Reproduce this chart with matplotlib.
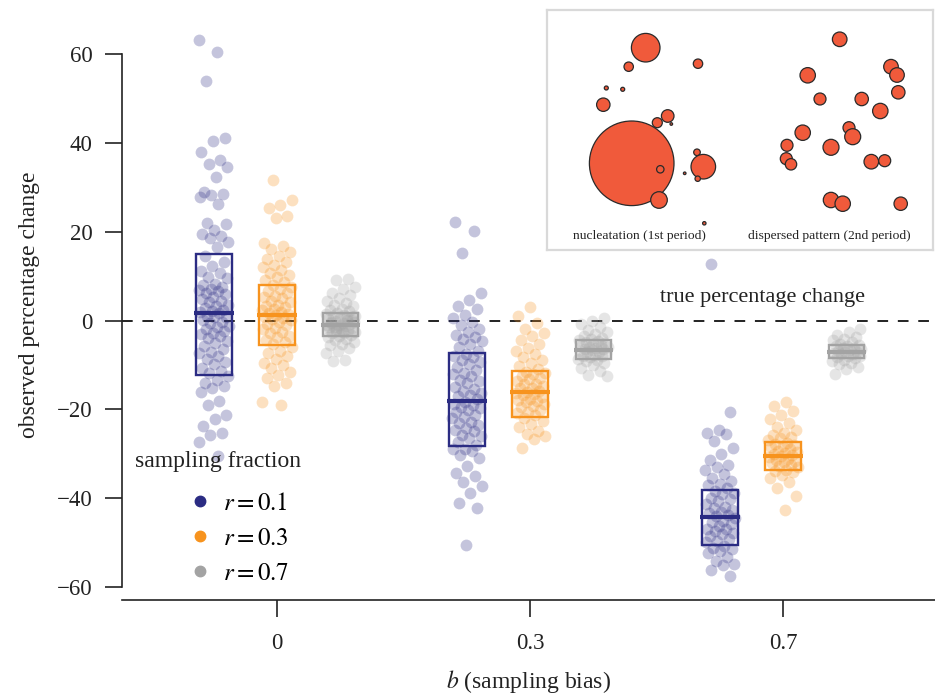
import numpy as np
import matplotlib
matplotlib.use('Agg')
import matplotlib.pyplot as plt
from matplotlib.patches import Rectangle, Circle
from matplotlib.lines import Line2D

plt.rcParams['font.family'] = ['Liberation Serif', 'DejaVu Serif']
plt.rcParams['mathtext.fontset'] = 'stix'

bias_labels = ['0', '0.3', '0.7']
fraction_labels = ['0.1', '0.3', '0.7']
colors = ['#2b2c83', '#f7931e', '#a3a3a3']

# observed percentage change per replicate, b = 0
b0_r01 = [63.2, 60.6, 54.1, 41.1, 40.4, 37.9, 36.2, 35.3, 34.6, 32.3, 29.0, 28.6, 28.3, 27.9,
          26.2, 22.0, 21.7, 20.5, 19.5, 19.0, 18.7, 17.7, 16.6, 14.5, 13.2,
          12.4, 11.1, 10.7, 9.8, 9.5, 8.3, 8.0, 7.6, 7.2, 6.9, 6.6, 6.1, 5.9, 5.2, 4.8, 4.5,
          4.1, 3.6, 3.3, 2.9, 2.4, 2.1, 2.0, 1.6, 1.0, 0.9, 0.7, 0.2, -0.4, -0.6, -1.2, -1.5,
          -1.9, -2.3, -2.8, -3.1, -3.6, -4.0, -4.7, -5.1, -5.8, -6.4, -7.0, -7.3, -8.1, -8.7,
          -9.4, -9.9, -10.6, -11.3, -11.8, -12.4,
          -13.3, -14.1, -14.8, -15.1, -16.2, -18.2, -19.0, -21.2, -22.2, -23.8, -25.3, -25.7,
          -27.4, -30.6]
b0_r03 = [31.6, 27.1, 26.0, 25.3, 23.5, 23.0, 17.5, 16.9, 16.2, 15.4, 14.5, 13.9, 13.2, 12.6,
          12.1, 11.4, 10.8, 10.2, 9.7, 9.1, 8.6,
          8.1, 7.5, 7.2, 6.6, 6.1, 5.5, 5.3, 5.0, 4.4, 4.1, 3.6, 3.2, 3.0, 2.7, 2.4, 2.0, 1.7,
          1.5, 1.2, 0.9, 0.6, 0.3, 0.1, -0.4, -0.8, -1.1, -1.6, -2.0, -2.5, -2.9, -3.4, -3.8,
          -4.5, -4.9, -5.4,
          -6.0, -6.8, -7.3, -8.1, -8.7, -9.6, -10.1, -10.6, -11.5, -12.2, -12.9, -14.0, -14.8,
          -18.3, -19.0]
b0_r07 = [9.4, 9.1, 7.6, 7.0, 6.2, 5.8, 5.1, 4.4, 4.0, 3.5, 3.2, 2.7, 2.3, 2.1, 1.8, 1.5, 1.3,
          1.0, 0.8, 0.5, 0.4, 0.1, -0.1, -0.3, -0.5, -0.6, -0.8, -1.0, -1.1, -1.3, -1.4, -1.6,
          -1.8, -1.9, -2.1, -2.3, -2.5, -2.7, -2.9, -3.2, -3.4, -3.7, -4.1, -4.3, -4.8, -5.3,
          -5.6, -6.2, -6.9, -7.4, -8.8, -9.2, 0.2, -0.9, -1.5, 0.7, -2.0, 1.1, -2.6, -0.4]

# b = 0.3
b03_r01 = [22.3, 20.1, 15.2, 6.2, 4.7, 3.2, 2.5, 1.3, 0.6, -0.4, -1.0, -1.8, -2.5, -3.3, -3.8,
           -4.1, -4.6, -5.4, -6.0, -6.8, -7.5, -7.9, -8.3, -9.0, -9.4, -9.7, -10.5, -11.2,
           -11.9, -12.0, -12.6, -13.4, -13.7, -14.0, -14.9, -15.5, -15.8, -16.3, -16.9, -17.0,
           -17.6, -18.4, -18.9, -19.1, -19.5, -19.8, -20.2, -20.6, -21.3, -21.7, -22.0, -22.8,
           -23.0, -23.5, -24.2, -24.6, -25.0, -25.8, -26.1, -26.5, -27.3, -28.0, -28.9, -29.0,
           -29.5, -30.4, -31.1, -32.9, -34.3, -35.1, -36.5, -37.2, -38.8, -41.1, -42.2, -50.5]
b03_r03 = [3.0, 1.0, -0.5, -1.8, -2.7, -3.6, -4.5, -5.2, -6.1, -6.8, -7.6, -8.3, -9.0, -9.6,
           -10.3, -10.9, -11.5, -11.8, -12.1, -12.6, -12.9, -13.2, -13.7, -14.2, -14.4, -14.8,
           -15.1, -15.3, -15.8, -16.0, -16.3, -16.6, -16.8, -17.3, -17.8, -17.9, -18.1, -18.4,
           -18.9, -19.2, -19.5, -20.1, -20.7, -20.9, -21.3, -21.9, -22.6, -23.3, -24.0, -24.8,
           -25.5, -26.1, -26.8, -28.7]
b03_r07 = [0.5, 0.0, -0.8, -1.5, -2.1, -2.6, -3.1, -3.5, -3.9, -4.1, -4.3, -4.6, -4.9, -5.0,
           -5.3, -5.5, -5.6, -5.9, -6.0, -6.2, -6.4, -6.5, -6.6, -6.8, -7.0, -7.1, -7.4, -7.7,
           -7.9, -8.0, -8.3, -8.7, -8.9, -9.1, -9.6, -10.1, -10.7, -11.4, -12.2, -12.6]

# b = 0.7
b07_r01 = [12.7, -20.7, -24.6, -25.3, -25.6, -27.2, -28.7, -30.1, -31.4, -32.5, -33.0, -33.6,
           -34.5, -35.4, -36.2, -36.8, -37.0, -37.8, -38.5, -38.9, -39.2, -39.9, -40.2, -40.6,
           -41.3, -42.0, -42.3, -42.6, -43.2, -43.5, -43.9, -44.0, -44.5, -45.1, -45.5, -45.8,
           -46.4, -46.9, -47.1, -47.5, -47.8, -48.1, -48.5, -49.2, -49.6, -50.0, -50.8, -51.2,
           -51.6, -52.0, -52.4, -53.3, -54.2, -54.8, -55.1, -56.3, -57.7]
b07_r03 = [-18.4, -19.3, -20.5, -21.4, -22.3, -23.1, -24.0, -24.7, -25.3, -25.9, -26.2, -26.5,
           -27.0, -27.5, -27.8, -28.0, -28.2, -28.5, -29.0, -29.4, -29.6, -29.9, -30.0, -30.3,
           -30.6, -30.8, -31.2, -31.4, -31.7, -31.9, -32.1, -32.6, -32.9, -33.1, -33.6, -33.9,
           -34.2, -34.8, -35.5, -36.3, -37.7, -39.6, -42.6]
b07_r07 = [-2.0, -2.6, -3.2, -3.7, -4.1, -4.5, -4.9, -5.2, -5.5, -5.7, -5.8, -6.1, -6.3, -6.4,
           -6.7, -6.8, -7.0, -7.2, -7.3, -7.5, -7.6, -7.9, -8.1, -8.2, -8.5, -8.8, -9.1, -9.5,
           -9.9, -10.4, -11.0, -12.0]

# box summaries: rows = bias, cols = fraction
box_lo = [[-12.2, -5.6, -3.4], [-28.2, -21.8, -8.6], [-50.5, -33.6, -8.4]]
box_mid = [[1.8, 1.2, -1.0], [-18.2, -16.0, -6.7], [-44.3, -30.6, -7.1]]
box_hi = [[14.9, 8.0, 1.6], [-7.4, -11.4, -4.5], [-38.2, -27.4, -5.6]]

# inset sketch: circle centres / radii (inset pixel frame)
nuc_x = [98.7, 81.7, 151, 59.3, 75.7, 56.3, 120.7, 110.3, 124.3, 108, 84.7, 113.3, 150, 156.3, 150.7, 137.7, 112, 157.3]
nuc_y = [37.7, 56.7, 53.7, 78, 79.3, 94.7, 106, 112.7, 114, 120, 153.3, 159.3, 142.3, 156.7, 168.7, 163.3, 190, 213.3]
nuc_r = [14.3, 4.7, 4.7, 2, 2, 6.7, 6.3, 5, 1.3, 1, 42.3, 3.7, 3.3, 12.3, 2.7, 1.3, 8.3, 1.7]
disp_x = [292.7, 260.7, 344, 350, 351.3, 273, 314.7, 333.3, 255.7, 302, 305.7, 240, 284, 239.3, 244, 324.3, 337.7, 284, 295.7, 353.7]
disp_y = [29.3, 65.3, 56.7, 65, 82.3, 89, 89, 101, 122.7, 117.7, 126.7, 135.3, 137.3, 148.7, 154.3, 151.7, 150.7, 190, 193.7, 193.7]
disp_r = [7.3, 7.7, 7.3, 7.3, 6.7, 6, 6.7, 7.7, 7.7, 6, 8, 6, 8, 6, 5.7, 7.3, 6, 7.7, 7.7, 6.7]

groups = [[b0_r01, b0_r03, b0_r07], [b03_r01, b03_r03, b03_r07], [b07_r01, b07_r03, b07_r07]]
offsets = [-0.25, 0.0, 0.25]

fig = plt.figure(figsize=(9.35, 6.97), dpi=100)
ax = fig.add_axes([122 / 935, 97 / 697, 813 / 935, 590 / 697])

for i, row in enumerate(groups):
    for j, vals in enumerate(row):
        vals = np.asarray(vals)
        n = len(vals)
        # deterministic strip jitter
        jit = ((np.arange(n) * 0.618034 + 0.37 * j + 0.11 * i) % 1 - 0.5) * 0.12
        xc = i + offsets[j]
        ax.scatter(xc + jit, vals, s=72, color=colors[j], alpha=0.28, linewidths=0, zorder=2)
        ax.add_patch(Rectangle((xc - 0.07, box_lo[i][j]), 0.14, box_hi[i][j] - box_lo[i][j],
                               fill=False, ec=colors[j], lw=1.7, zorder=3))
        ax.plot([xc - 0.078, xc + 0.078], [box_mid[i][j]] * 2, color=colors[j], lw=3.0,
                solid_capstyle='butt', zorder=3)

ax.axhline(0, color='#222222', lw=1.4, ls=(0, (5.5, 5)), zorder=1)
ax.text(1.92, 5.2, 'true percentage change', fontsize=16, ha='center', va='center', color='#222222')

ax.set_xlim(-0.613, 2.6)
ax.set_ylim(-63, 70)
ax.set_xticks([0, 1, 2])
ax.set_xticklabels(bias_labels)
ax.set_yticks([-60, -40, -20, 0, 20, 40, 60])
ax.set_yticklabels(['\u221260', '\u221240', '\u221220', '0', '20', '40', '60'])
ax.tick_params(axis='both', labelsize=16.5, length=12, width=1.2, colors='#222222', pad=9)
ax.tick_params(axis='x', pad=12)
for s in ['top', 'right']:
    ax.spines[s].set_visible(False)
for s in ['left', 'bottom']:
    ax.spines[s].set_linewidth(1.2)
    ax.spines[s].set_color('#222222')
ax.spines['left'].set_bounds(-60, 60)
ax.set_ylabel('observed percentage change', fontsize=17, labelpad=12, color='#222222')
ax.set_xlabel('$b$ (sampling bias)', fontsize=17, labelpad=10, color='#222222')

# legend
ax.text(0.016, 0.234, 'sampling fraction', transform=ax.transAxes, fontsize=17,
        va='center', ha='left', color='#222222')
handles = [Line2D([], [], ls='', marker='o', ms=7.5, color=c) for c in colors]
labels = ['$r = %s$' % f for f in fraction_labels]
ax.legend(handles, labels, loc='upper left', bbox_to_anchor=(0.084, 0.183), frameon=False,
          fontsize=18, handlelength=0.75, handletextpad=0.55, labelspacing=0.5,
          borderpad=0, borderaxespad=0)

# inset
ins = fig.add_axes([547 / 935, 447 / 697, 386 / 935, 240 / 697])
ins.set_xlim(0, 386)
ins.set_ylim(240, 0)
ins.set_xticks([])
ins.set_yticks([])
for s in ins.spines.values():
    s.set_color('#d9d9d9')
    s.set_linewidth(1.6)
for x, y, r in zip(nuc_x + disp_x, nuc_y + disp_y, nuc_r + disp_r):
    ins.add_patch(Circle((x, y), r, fc='#f05a3b', ec='#2a2a2a', lw=0.9))
ins.text(92, 226, 'nucleatation (1st period)', fontsize=9.7, ha='center', va='center', color='#222222')
ins.text(282.3, 226, 'dispersed pattern (2nd period)', fontsize=9.7, ha='center', va='center', color='#222222')

fig.savefig('out.png', dpi=100)
